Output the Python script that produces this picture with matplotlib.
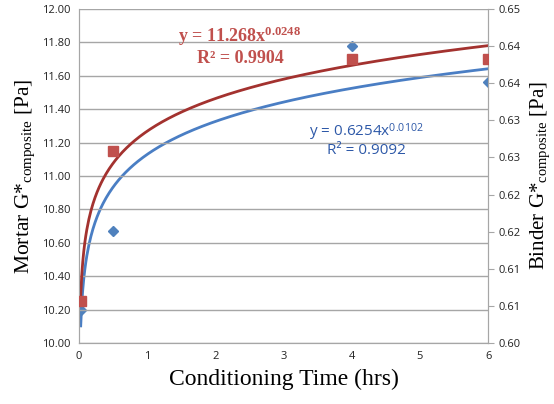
import numpy as np
import matplotlib
matplotlib.use("Agg")
import matplotlib.pyplot as plt

plt.rcParams['mathtext.fontset'] = 'custom'
plt.rcParams['mathtext.rm'] = 'Liberation Serif'
plt.rcParams['mathtext.it'] = 'Liberation Serif:italic'
plt.rcParams['mathtext.bf'] = 'Liberation Serif:bold'
plt.rcParams['mathtext.sf'] = 'Open Sans'

# measured data
time_hrs = [0.025, 0.5, 4, 6]
mortar_g = [10.25, 11.15, 11.70, 11.70]
binder_g = [0.6045, 0.6151, 0.6400, 0.6351]

# power-law trendlines (from the chart)
mortar_a, mortar_b = 11.268, 0.0248
binder_a, binder_b = 0.6254, 0.0102

left_ticks = [10.00, 10.20, 10.40, 10.60, 10.80, 11.00, 11.20, 11.40, 11.60, 11.80, 12.00]
right_ticks = [0.600, 0.605, 0.610, 0.615, 0.620, 0.625, 0.630, 0.635, 0.640, 0.645]
right_labels = ['0.60', '0.61', '0.61', '0.62', '0.62', '0.63', '0.63', '0.64', '0.64', '0.65']
x_ticks = [0, 1, 2, 3, 4, 5, 6]

red_line = '#A3322F'
red_mark = '#C0504D'
blue_line = '#4A7EC4'
blue_mark = '#4F81BD'
grid_c = '#A6A6A6'

fig = plt.figure(figsize=(5.54, 4.04), dpi=100)
ax = fig.add_axes([0.1426, 0.151, 0.7384, 0.827])
ax2 = ax.twinx()

xs = np.linspace(min(time_hrs), max(time_hrs), 400)

ax2.plot(xs, binder_a * xs ** binder_b, color=blue_line, lw=2, zorder=2)
ax2.plot(time_hrs, binder_g, 'D', color=blue_mark, ms=5, zorder=3)
ax2.set_ylim(0.600, 0.645)
ax2.set_yticks(right_ticks)
ax2.set_yticklabels(right_labels)

ax.plot(xs, mortar_a * xs ** mortar_b, color=red_line, lw=2, zorder=2)
ax.plot(time_hrs, mortar_g, 's', color=red_mark, ms=7, zorder=3)
ax.set_ylim(10.0, 12.0)
ax.set_yticks(left_ticks)
ax.set_yticklabels(['%.2f' % v for v in left_ticks])
ax.set_xlim(0, 6)
ax.set_xticks(x_ticks)
ax.grid(axis='y', color=grid_c, lw=1)
ax.set_axisbelow(True)

ax.set_zorder(ax2.get_zorder() + 1)
ax.patch.set_visible(False)

for a in (ax, ax2):
    for s in a.spines.values():
        s.set_color(grid_c)
    a.spines['top'].set_visible(False)
    a.tick_params(labelsize=8, colors='#222222', length=4)
    a.tick_params(color=grid_c)
    for lab in a.get_xticklabels() + a.get_yticklabels():
        lab.set_fontfamily('Open Sans')
ax.tick_params(axis='x', length=0, pad=6)
ax.tick_params(axis='y', length=0, pad=6)

ax.set_xlabel('Conditioning Time (hrs)', fontfamily='Liberation Serif', fontsize=17, labelpad=5)
ax.set_ylabel(r'Mortar G*$_{\mathrm{composite}}$ [Pa]', fontfamily='Liberation Serif', fontsize=15.5, labelpad=4)
ax2.set_ylabel(r'Binder G*$_{\mathrm{composite}}$ [Pa]', fontfamily='Liberation Serif', fontsize=15, labelpad=6)

ax.text(2.36, 11.835, r'y = 11.268x$^{\mathbf{0.0248}}$', color=red_mark, fontsize=13,
        fontfamily='Liberation Serif', fontweight='bold', ha='center', va='center')
ax.text(2.36, 11.705, 'R² = 0.9904', color=red_mark, fontsize=13,
        fontfamily='Liberation Serif', fontweight='bold', ha='center', va='center')
ax.text(4.22, 11.263, r'y = 0.6254x$^{\mathsf{0.0102}}$', color='#2E59A8', fontsize=11,
        fontfamily='Open Sans', ha='center', va='center')
ax.text(4.22, 11.15, 'R² = 0.9092', color='#2E59A8', fontsize=11,
        fontfamily='Open Sans', ha='center', va='center')

fig.savefig('out.png', dpi=100)
